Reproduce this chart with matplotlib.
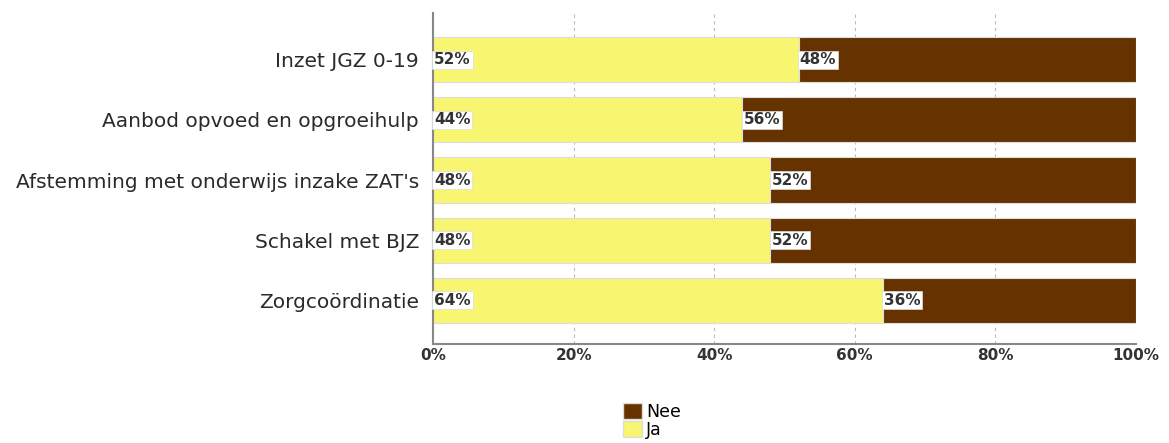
import matplotlib
matplotlib.use("Agg")
import matplotlib.pyplot as plt
from matplotlib.patches import Patch

categories = ["Inzet JGZ 0-19", "Aanbod opvoed en opgroeihulp",
              "Afstemming met onderwijs inzake ZAT's", "Schakel met BJZ",
              "Zorgcoördinatie"]
ja = [52, 44, 48, 48, 64]
nee = [48, 56, 52, 52, 36]
xticks = [0, 20, 40, 60, 80, 100]
xtick_labels = ["0%", "20%", "40%", "60%", "80%", "100%"]

c_ja = "#F8F570"
c_nee = "#663300"

fig = plt.figure(figsize=(11.69, 4.43), dpi=100)
ax = fig.add_axes([433/1169, 1-344/443, (1136-433)/1169, (344-13)/443])

y = list(range(len(categories)))
ax.barh(y, ja, height=0.75, color=c_ja, edgecolor="#dddddd", linewidth=0.8, zorder=2)
ax.barh(y, nee, left=ja, height=0.75, color=c_nee, edgecolor="#dddddd", linewidth=0.8, zorder=2)

bbox = dict(boxstyle="square,pad=0.12", fc="white", ec="#dddddd", lw=0.5)
for i in range(len(categories)):
    ax.text(0.15, i, f"{ja[i]}%", va="center", ha="left", fontsize=11, color="#333333",
            fontweight="bold", bbox=bbox, zorder=3)
    ax.text(ja[i] + 0.15, i, f"{nee[i]}%", va="center", ha="left", fontsize=11, color="#333333",
            fontweight="bold", bbox=bbox, zorder=3)

ax.set_xlim(0, 100)
ax.set_ylim(4.73, -0.78)
ax.set_yticks(y)
ax.set_yticklabels(categories, fontsize=14.5, color="#2a2a2a")
ax.set_xticks(xticks)
ax.set_xticklabels(xtick_labels, fontsize=11, color="#333333", fontweight="bold")
ax.tick_params(axis="y", length=0, pad=10)
ax.tick_params(axis="x", length=0, pad=3)
ax.grid(axis="x", linestyle=(0, (3, 3)), color="#bbbbbb", linewidth=0.8, zorder=0)
for s in ["top", "right"]:
    ax.spines[s].set_visible(False)
ax.spines["left"].set_color("#888888")
ax.spines["left"].set_linewidth(1.5)
ax.spines["bottom"].set_color("#888888")
ax.spines["bottom"].set_linewidth(1.5)

handles = [Patch(facecolor=c_nee, edgecolor="#dddddd", label="Nee"),
           Patch(facecolor=c_ja, edgecolor="#dddddd", label="Ja")]
fig.legend(handles=handles, loc="center", bbox_to_anchor=(652/1169, 1-421/443),
           frameon=False, fontsize=12.5, handlelength=1.1, handleheight=1.0,
           handletextpad=0.2, labelspacing=0.02, borderpad=0)

fig.savefig("out.png", dpi=100)
